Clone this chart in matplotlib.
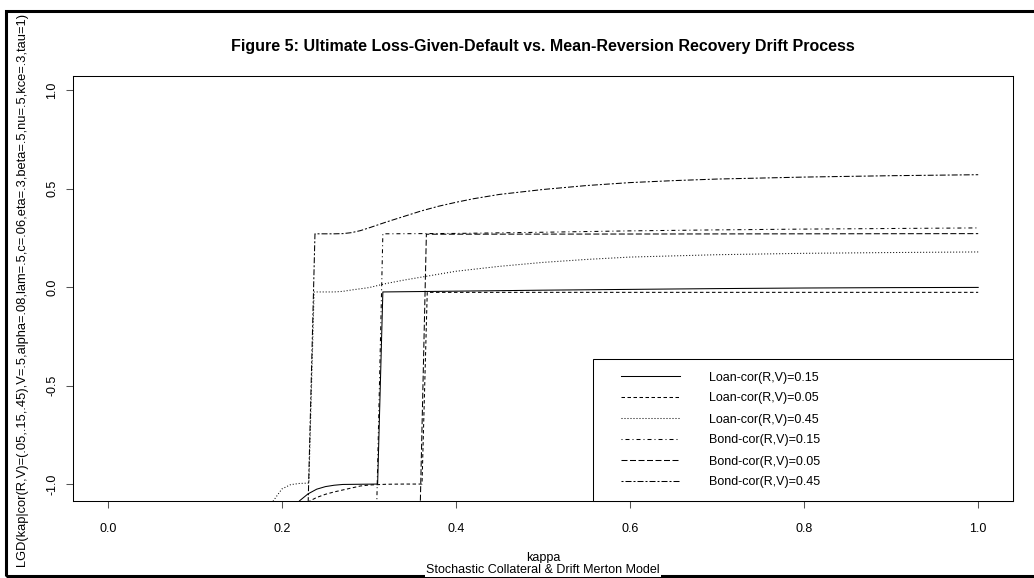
"""Figure 5: ultimate LGD vs. mean-reversion recovery drift (kappa)."""

import matplotlib

matplotlib.use("Agg")
import matplotlib.pyplot as plt  # noqa: E402
from matplotlib.legend_handler import HandlerLine2D  # noqa: E402
from matplotlib.lines import Line2D  # noqa: E402
from matplotlib.patches import Rectangle  # noqa: E402

plt.rcParams["font.family"] = ["Liberation Sans", "DejaVu Sans"]
plt.rcParams["axes.unicode_minus"] = False
plt.rcParams["lines.scale_dashes"] = False

# ---- data ------------------------------------------------------------------
loan_15_k = [0.21, 0.22, 0.23, 0.24, 0.25, 0.26, 0.27, 0.31, 0.316,
             0.40, 0.50, 0.60, 0.70, 0.80, 0.90, 1.00]
loan_15_v = [-1.40, -1.086, -1.05, -1.026, -1.013, -1.006, -1.002, -1.0, -0.025,
             -0.021, -0.016, -0.012, -0.008, -0.005, -0.003, -0.002]

loan_05_k = [0.22, 0.232, 0.24, 0.25, 0.26, 0.27, 0.28, 0.29, 0.30, 0.32, 0.34,
             0.361, 0.367, 0.60, 1.00]
loan_05_v = [-1.40, -1.086, -1.068, -1.052, -1.04, -1.03, -1.02, -1.01, -1.005,
             -1.001, -1.0, -1.0, -0.027, -0.027, -0.027]

loan_45_k = [0.18, 0.19, 0.20, 0.21, 0.22, 0.231, 0.237, 0.26, 0.27, 0.28, 0.30,
             0.32, 0.34, 0.36, 0.40, 0.45, 0.50, 0.55, 0.60, 0.70, 0.80, 0.90, 1.00]
loan_45_v = [-1.60, -1.086, -1.025, -1.003, -0.997, -0.995, -0.025, -0.025, -0.022,
             -0.015, -0.003, 0.018, 0.035, 0.050, 0.080, 0.105, 0.125, 0.140,
             0.152, 0.164, 0.171, 0.175, 0.178]

bond_15_k = [0.308, 0.316, 0.40, 0.50, 0.60, 0.70, 0.80, 0.90, 1.00]
bond_15_v = [-1.30, 0.270, 0.272, 0.278, 0.285, 0.290, 0.294, 0.297, 0.300]

bond_05_k = [0.358, 0.366, 0.60, 1.00]
bond_05_v = [-1.30, 0.268, 0.269, 0.271]

bond_45_k = [0.229, 0.238, 0.26, 0.27, 0.28, 0.29, 0.30, 0.32, 0.34, 0.36, 0.38,
             0.40, 0.42, 0.45, 0.50, 0.55, 0.60, 0.65, 0.70, 0.80, 0.90, 1.00]
bond_45_v = [-1.30, 0.270, 0.270, 0.271, 0.276, 0.286, 0.300, 0.330, 0.358, 0.386,
             0.410, 0.430, 0.448, 0.470, 0.495, 0.515, 0.530, 0.540, 0.548, 0.558,
             0.565, 0.570]

series_labels = ["Loan-cor(R,V)=0.15", "Loan-cor(R,V)=0.05", "Loan-cor(R,V)=0.45",
                 "Bond-cor(R,V)=0.15", "Bond-cor(R,V)=0.05", "Bond-cor(R,V)=0.45"]

x_ticks = [0.0, 0.2, 0.4, 0.6, 0.8, 1.0]
x_ticklabels = ["0.0", "0.2", "0.4", "0.6", "0.8", "1.0"]
y_ticks = [-1.0, -0.5, 0.0, 0.5, 1.0]
y_ticklabels = ["-1.0", "-0.5", "0.0", "0.5", "1.0"]

title = "Figure 5: Ultimate Loss-Given-Default vs. Mean-Reversion Recovery Drift Process"
ylabel = ("LGD(kap|cor(R,V)=(.05,.15,.45),V=.5,alpha=.08,lam=.5,c=.06,eta=.3,"
          "beta=.5,nu=.5,kce=.3,tau=1)")
xlabel = "kappa"
subtitle = "Stochastic Collateral & Drift Merton Model"

# R-like line types, dash lengths in pixels
PX = 0.72
_DASHES = [
    None,                 # solid
    (3.5, 2.5),           # dashed
    (1, 2),               # dotted
    (1, 3, 4, 3),         # dotdash
    (6, 2.5),             # longdash
    (2, 2, 6, 2),         # twodash
]

W, H = 1034, 578
fig = plt.figure(figsize=(W / 100, H / 100), dpi=100)
ax = fig.add_axes([73 / W, 1 - 501 / H, 940 / W, 425 / H])

series = [(loan_15_k, loan_15_v), (loan_05_k, loan_05_v), (loan_45_k, loan_45_v),
          (bond_15_k, bond_15_v), (bond_05_k, bond_05_v), (bond_45_k, bond_45_v)]
for (k, v), lab, d in zip(series, series_labels, _DASHES):
    (ln,) = ax.plot(k, v, color="black", lw=0.75, label=lab)
    if d is not None:
        ln.set_dashes([x * PX for x in d])

ax.set_xlim(-0.04, 1.04)
ax.set_ylim(-1.086, 1.071)
ax.set_xticks(x_ticks, labels=x_ticklabels)
ax.set_yticks(y_ticks, labels=y_ticklabels)
ax.tick_params(length=5, width=0.75, color="#555555", labelsize=9)
ax.tick_params(axis="x", pad=10.5)
ax.tick_params(axis="y", pad=5.5, labelrotation=90)
for t in ax.get_yticklabels():
    t.set_va("center")
for s in ax.spines.values():
    s.set_linewidth(0.75)

leg = ax.legend(loc="lower left", bbox_to_anchor=(520 / 940, 0, 420 / 940, 0.36),
                mode="expand", borderaxespad=0, fontsize=9, fancybox=False,
                edgecolor="black", framealpha=1, borderpad=1.0, labelspacing=0.72,
                handlelength=5.96, handletextpad=2.32,
                handler_map={Line2D: HandlerLine2D(xpad=1.24)})
leg.get_frame().set_linewidth(0.75)

# outer frame of the original page (left, top, bottom visible)
fig.add_artist(Rectangle((6 / W, 2 / H), 1.2, 1 - 13 / H, transform=fig.transFigure,
                         fill=False, lw=2.2, edgecolor="black", clip_on=False))

cx = (73 + 1013) / 2 / W
fig.text(cx, 1 - 47 / H, title, ha="center", va="center", fontsize=11.5, fontweight="bold")
fig.text(cx, 1 - 558 / H, xlabel, ha="center", va="center", fontsize=9)
fig.text(cx, 1 - 570 / H, subtitle, ha="center", va="center", fontsize=9, zorder=5,
         bbox=dict(facecolor="white", edgecolor="none", pad=0.5))
fig.text(22 / W, 1 - 289 / H, ylabel, ha="center", va="center", rotation=90, fontsize=9.3)

fig.savefig("out.png", dpi=100)
